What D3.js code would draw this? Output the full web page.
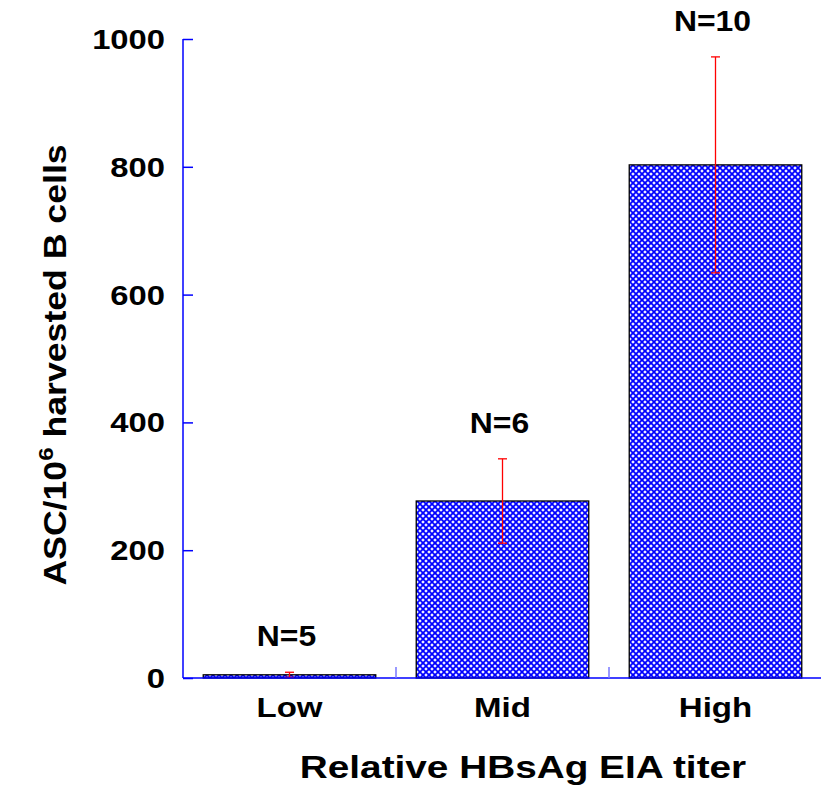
<!DOCTYPE html>
<html><head><meta charset="utf-8">
<script src="https://cdn.jsdelivr.net/npm/d3@7"></script>
<style>body{margin:0;background:#fff}svg{display:block}text{font-family:"Liberation Sans",Arial,sans-serif;font-weight:bold;fill:#000}</style>
</head><body>
<script>
const categories = ["Low","Mid","High"];
const means = [5, 277, 803];
const errors = [4, 66, 169];
const nLabels = ["N=5","N=6","N=10"];
const yTicks = [0,200,400,600,800,1000];

const W = 821, H = 789;
const svg = d3.select("body").append("svg").attr("width",W).attr("height",H);
const defs = svg.append("defs");
const pat = defs.append("pattern").attr("id","hatch").attr("patternUnits","userSpaceOnUse").attr("width",6).attr("height",6);
pat.append("rect").attr("width",6).attr("height",6).attr("fill","#eeeeff");
pat.append("path").attr("d","M-1,1 L1,-1 M0,6 L6,0 M5,7 L7,5 M-1,5 L1,7 M0,0 L6,6 M5,-1 L7,1").attr("stroke","#0000ff").attr("stroke-width",1.7);

const x = d3.scaleBand().domain(categories).range([183,822]).paddingInner(0.19).paddingOuter(0.095);
const y = d3.scaleLinear().domain([0,1000]).range([678,39]);

function stext(parent, px, py, sx, size, anchor, str){
  return parent.append("g").attr("transform",`translate(${px},${py}) scale(${sx},1)`)
    .append("text").attr("text-anchor",anchor).attr("font-size",size).text(str);
}

// bars
svg.selectAll("rect.bar").data(categories).enter().append("rect")
  .attr("x",d=>x(d)).attr("width",x.bandwidth())
  .attr("y",(d,i)=>y(means[i])).attr("height",(d,i)=>y(0)-y(means[i]))
  .attr("fill","url(#hatch)").attr("stroke","#000").attr("stroke-width",1.3);

// error bars
const eb = svg.append("g").attr("stroke","#ff0000").attr("stroke-width",1.3);
categories.forEach((c,i)=>{
  const cx = x(c)+x.bandwidth()/2;
  eb.append("line").attr("x1",cx).attr("x2",cx).attr("y1",y(means[i]-errors[i])).attr("y2",y(means[i]+errors[i]));
  [means[i]-errors[i], means[i]+errors[i]].forEach(v=>{
    eb.append("line").attr("x1",cx-4.5).attr("x2",cx+4.5).attr("y1",y(v)).attr("y2",y(v));
  });
  stext(svg, cx-3, y(means[i]+errors[i])-26, 1.1, 29, "middle", nLabels[i]);
});

// axes
const yAxis = d3.axisRight(y).tickValues(yTicks).tickSize(10).tickFormat("");
const gy = svg.append("g").attr("transform","translate(183,0)").call(yAxis);
gy.select(".domain").attr("stroke","#0000ff").attr("stroke-width",1.5).attr("d","M0,39V678");
gy.selectAll(".tick line").attr("stroke","#0000ff").attr("stroke-width",1.5);
yTicks.forEach(d=>{
  stext(svg, 165, y(d), 1.17, 28, "end", d).attr("dy","0.36em");
});

const bounds = categories.slice(1).map(c=>x(c)-x.step()*x.paddingInner()/2);
const gx = svg.append("g");
gx.append("line").attr("x1",183).attr("x2",W).attr("y1",y(0)).attr("y2",y(0)).attr("stroke","#0000ff").attr("stroke-width",1.5);
gx.selectAll("line.xt").data(bounds).enter().append("line").attr("class","xt")
  .attr("x1",d=>d).attr("x2",d=>d).attr("y1",y(0)).attr("y2",y(0)-11).attr("stroke","#7777ff").attr("stroke-width",1.5);
categories.forEach(c=>{
  stext(svg, x(c)+x.bandwidth()/2, 717, 1.18, 28, "middle", c);
});

stext(svg, 523, 778, 1.25, 31, "middle", "Relative HBsAg EIA titer");
const yg = svg.append("g").attr("transform","translate(66,365) rotate(-90) scale(1.15,1)");
const yt = yg.append("text").attr("text-anchor","middle").attr("font-size",31);
yt.append("tspan").text("ASC/10");
yt.append("tspan").attr("dy",-13).attr("font-size",21).text("6");
yt.append("tspan").attr("dy",13).text(" harvested B cells");
</script>
</body></html>
